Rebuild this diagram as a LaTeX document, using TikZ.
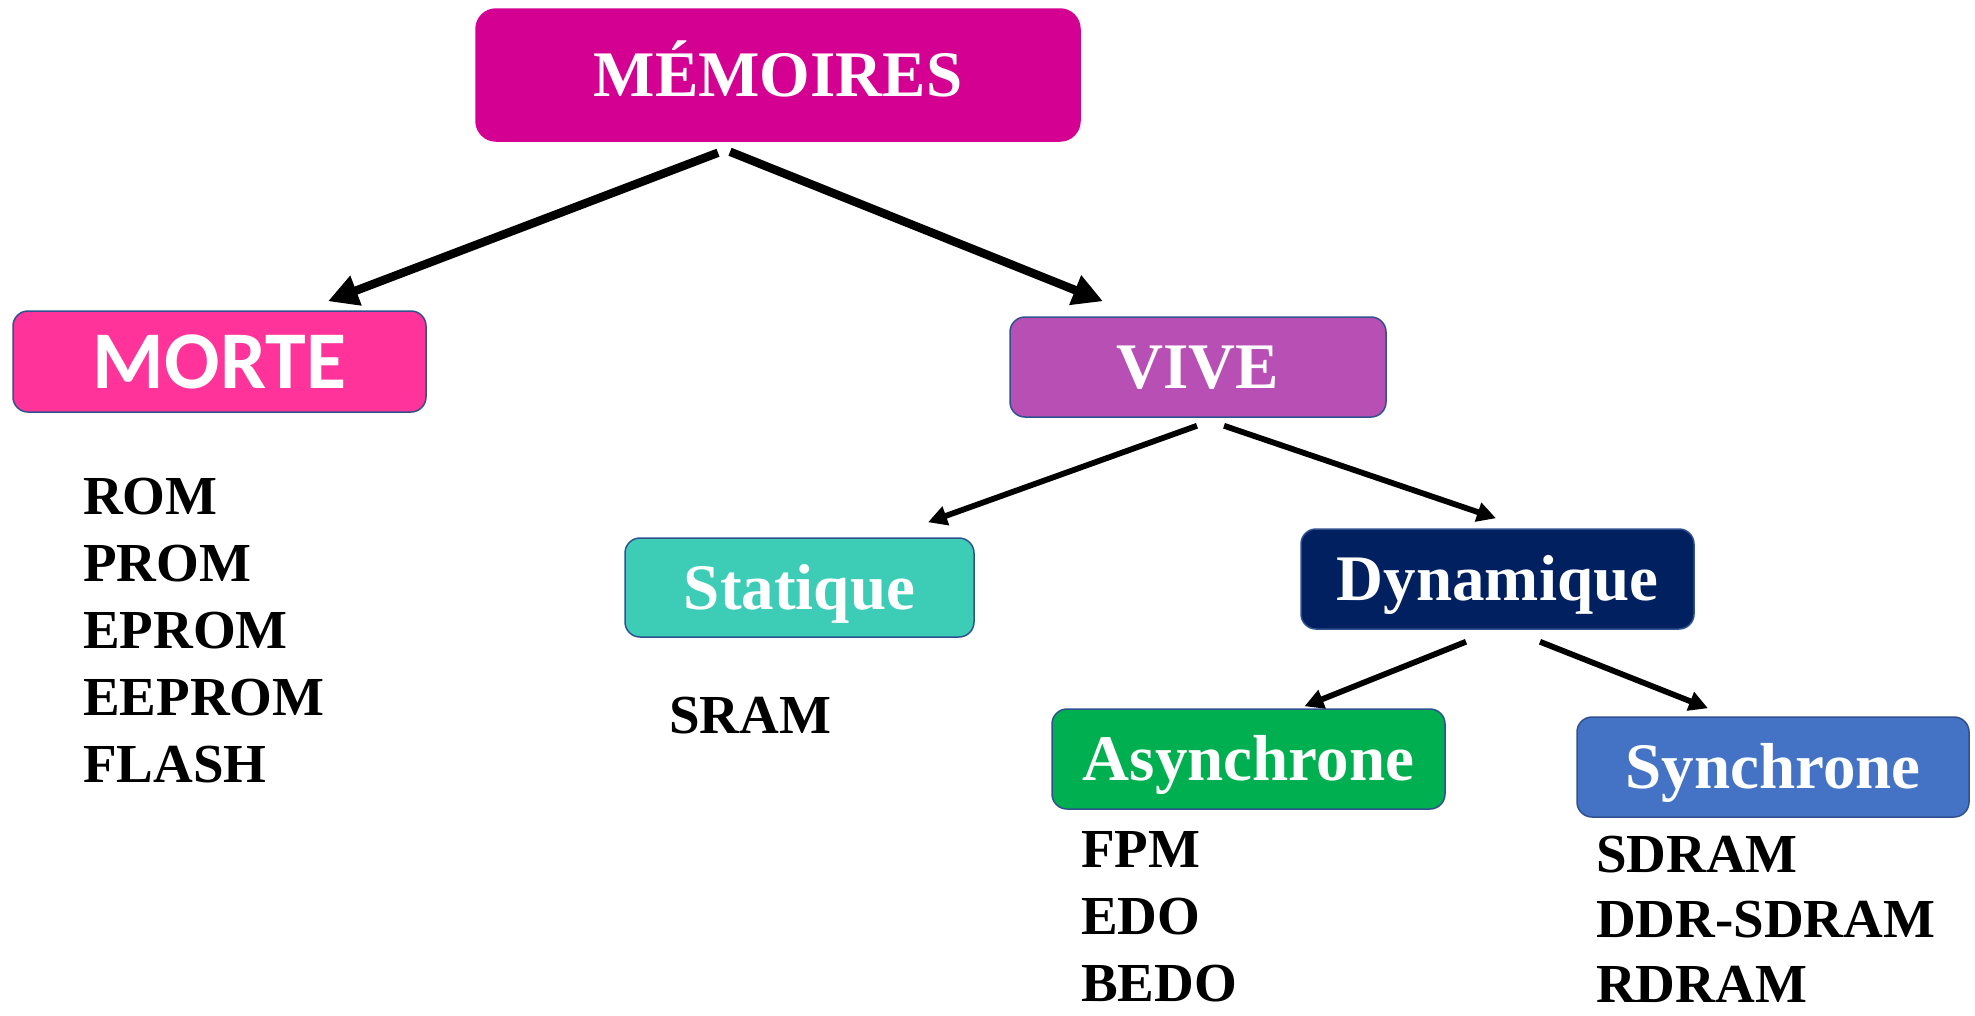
\documentclass[tikz,border=0pt]{standalone}
\usepackage{fontspec}
\setmainfont{Liberation Serif}
\newfontfamily\calibrifont{Carlito}
\usetikzlibrary{arrows.meta}
\definecolor{cMem}{RGB}{212,0,146}
\definecolor{cMorte}{RGB}{255,51,153}
\definecolor{cVive}{RGB}{184,79,181}
\definecolor{cStat}{RGB}{61,205,183}
\definecolor{cDyn}{RGB}{0,32,96}
\definecolor{cAsync}{RGB}{0,176,80}
\definecolor{cSync}{RGB}{68,114,196}
\definecolor{cBorder}{RGB}{47,82,143}
\tikzset{
  box/.style={rounded corners=15pt, draw=cBorder, line width=1.5pt, minimum height=100pt,
    text=white, font=\bfseries\fontsize{65}{65}\selectfont, text height=43pt, text depth=0pt, inner sep=0pt},
  item/.style={font=\bfseries\fontsize{55}{55}\selectfont, inner sep=0pt, anchor=base west},
  bigarrow/.style={line width=8.5pt, -{Triangle[length=30pt,width=30pt]}},
  smallarrow/.style={line width=5.8pt, -{Triangle[length=19pt,width=19pt]}}
}
\begin{document}
\begin{tikzpicture}[x=1pt,y=-1pt]
\useasboundingbox (0,0) rectangle (1975,1015);
% boxes
\node[box, fill=cMem, draw=cMem, rounded corners=20pt, minimum width=604pt, minimum height=132pt] (mem) at (778,75) {MÉMOIRES};
\node[box, fill=cMorte, minimum width=413pt, minimum height=101pt, font=\calibrifont\bfseries\fontsize{82}{82}\selectfont, text height=53pt] (morte) at (219.5,361.5) {MORTE};
\node[box, fill=cVive, minimum width=376pt] (vive) at (1198,367) {VIVE};
\node[box, fill=cStat, minimum width=349pt, minimum height=99pt] (stat) at (799.5,587.5) {Statique};
\node[box, fill=cDyn, minimum width=393pt] (dyn) at (1497.5,579) {Dynamique};
\node[box, fill=cAsync, minimum width=393pt] (async) at (1248.5,759) {Asynchrone};
\node[box, fill=cSync, minimum width=392pt] (sync) at (1773,767) {Synchrone};
% arrows
\draw[bigarrow] ([xshift=-60pt,yshift=-11pt]mem.south) -- ([xshift=108.5pt,yshift=9pt]morte.north);
\draw[bigarrow] ([xshift=-48pt,yshift=-10pt]mem.south) -- ([xshift=-95pt,yshift=15pt]vive.north);
\draw[smallarrow] ([xshift=-1pt,yshift=-8pt]vive.south) -- ([xshift=128.5pt,yshift=15pt]stat.north);
\draw[smallarrow] ([xshift=26pt,yshift=-8pt]vive.south) -- ([xshift=-1.5pt,yshift=10pt]dyn.north);
\draw[smallarrow] ([xshift=-31.5pt,yshift=-12pt]dyn.south) -- ([xshift=56pt,yshift=2pt]async.north);
\draw[smallarrow] ([xshift=42.5pt,yshift=-12pt]dyn.south) -- ([xshift=-65pt,yshift=8pt]sync.north);
% lists
\foreach \t [count=\i] in {ROM,PROM,EPROM,EEPROM,FLASH}
  \node[item] (morte-\i) at (83,{514+67*(\i-1)}) {\t};
\node[item] (sram) at (669,733) {SRAM};
\foreach \t [count=\i] in {FPM,EDO,BEDO}
  \node[item] (async-\i) at (1081,{867+67*(\i-1)}) {\t};
\foreach \t [count=\i] in {SDRAM,DDR-SDRAM,RDRAM}
  \node[item] (sync-\i) at (1596,{872+65*(\i-1)}) {\t};
\end{tikzpicture}
\end{document}
